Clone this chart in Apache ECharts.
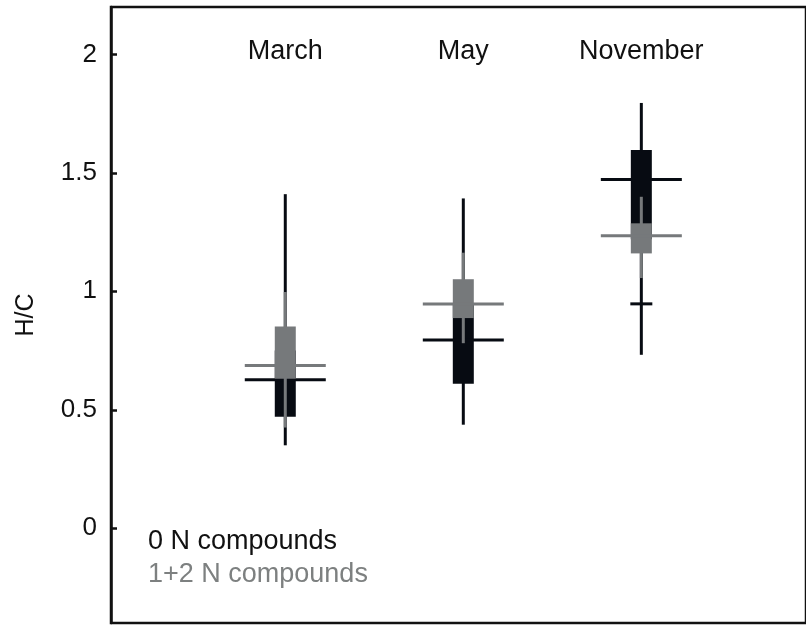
<!DOCTYPE html>
<html>
<head>
    <meta charset="utf-8">
    <title>H/C by month</title>
    <script src="https://cdn.jsdelivr.net/npm/echarts@6/dist/echarts.min.js"></script>
    <style type="text/css">
        body{ margin:0; background:#fff; }
        #main{ width:806px; height:626px; }
    </style>
</head>
<body>
<div id="main"></div>

<script type="text/javascript">
    // data
    var months = ['March', 'May', 'November'];
    var yTicks = [0, 0.5, 1, 1.5, 2];

    // 0 N compounds (black)
    var blackWhiskerLow  = [0.350, 0.437, 0.732];
    var blackBoxLow      = [0.471, 0.610, 1.220];
    var blackMedian      = [0.627, 0.794, 1.472];
    var blackBoxHigh     = [0.750, 0.950, 1.596];
    var blackWhiskerHigh = [1.410, 1.392, 1.795];
    var blackExtra       = [null, null, 0.947];

    // 1+2 N compounds (grey)
    var greyWhiskerLow  = [0.425, 0.781, 1.056];
    var greyBoxLow      = [0.631, 0.887, 1.160];
    var greyMedian      = [0.687, 0.946, 1.235];
    var greyBoxHigh     = [0.851, 1.051, 1.287];
    var greyWhiskerHigh = [0.997, 1.163, 1.399];

    var BLACK = '#070b12';
    var GREY = '#76797b';
    var TEXT = '#111111';

    function boxData(lo, bl, med, bh, hi) {
        var out = [];
        for (var i = 0; i < months.length; i++) {
            out.push([i + 1, lo[i], bl[i], med[i], bh[i], hi[i]]);
        }
        return out;
    }

    function boxRender(color) {
        return function (params, api) {
            var x = api.value(0);
            var wLo = api.coord([x, api.value(1)]);
            var bLo = api.coord([x, api.value(2)]);
            var med = api.coord([x, api.value(3)]);
            var bHi = api.coord([x, api.value(4)]);
            var wHi = api.coord([x, api.value(5)]);
            var cx = wLo[0];
            return {
                type: 'group',
                children: [
                    { type: 'rect', shape: { x: cx - 1.5, y: wHi[1], width: 3, height: wLo[1] - wHi[1] }, style: { fill: color } },
                    { type: 'rect', shape: { x: cx - 10.5, y: bHi[1], width: 21, height: bLo[1] - bHi[1] }, style: { fill: color } },
                    { type: 'rect', shape: { x: cx - 40.5, y: med[1] - 1.5, width: 81, height: 3 }, style: { fill: color } }
                ]
            };
        };
    }

    var extraData = [];
    for (var i = 0; i < blackExtra.length; i++) {
        if (blackExtra[i] !== null) extraData.push([i + 1, blackExtra[i]]);
    }

    var myChart = echarts.init(document.getElementById('main'));
    myChart.setOption({
        animation: false,
        textStyle: { fontFamily: '"Liberation Sans", Arial, sans-serif' },
        grid: {
            left: 111, top: 7, right: -6, bottom: 3,
            show: true, borderColor: TEXT, borderWidth: 2.5, backgroundColor: 'transparent'
        },
        legend: {
            orient: 'vertical',
            left: 138, top: 523,
            itemWidth: 0, itemHeight: 27, itemGap: 6,
            selectedMode: false,
            textStyle: { fontSize: 27 },
            data: [
                { name: '0 N compounds', icon: 'none', textStyle: { color: TEXT } },
                { name: '1+2 N compounds', icon: 'none', textStyle: { color: '#7d8080' } }
            ]
        },
        xAxis: [{
            type: 'value', min: 0.021, max: 3.925,
            axisLine: { show: false }, axisTick: { show: false },
            axisLabel: { show: false }, splitLine: { show: false }
        }, {
            type: 'value', position: 'top', min: 0.021, max: 3.925,
            axisLine: { show: false }, axisTick: { show: false }, splitLine: { show: false },
            axisLabel: {
                inside: true, margin: 31, fontSize: 27, color: TEXT,
                customValues: [1, 2, 3],
                formatter: function (v) { return months[Math.round(v) - 1]; }
            }
        }],
        yAxis: {
            type: 'value', min: -0.4, max: 2.2,
            name: 'H/C', nameLocation: 'middle', nameGap: 72,
            nameTextStyle: { fontSize: 25, color: TEXT },
            axisLine: { show: true, lineStyle: { color: TEXT, width: 2.5 } },
            axisTick: { show: true, inside: true, length: 6, lineStyle: { color: TEXT, width: 2.5 }, customValues: yTicks },
            axisLabel: { fontSize: 26, color: TEXT, margin: 14, customValues: yTicks },
            splitLine: { show: false }
        },
        series: [{
            name: '0 N compounds',
            type: 'custom',
            renderItem: boxRender(BLACK),
            encode: { x: 0, y: [1, 5] },
            data: boxData(blackWhiskerLow, blackBoxLow, blackMedian, blackBoxHigh, blackWhiskerHigh),
            z: 2
        }, {
            name: '0 N compounds',
            type: 'custom',
            renderItem: function (params, api) {
                var p = api.coord([api.value(0), api.value(1)]);
                return { type: 'rect', shape: { x: p[0] - 11, y: p[1] - 1.5, width: 22, height: 3 }, style: { fill: BLACK } };
            },
            encode: { x: 0, y: 1 },
            data: extraData,
            z: 2
        }, {
            name: '1+2 N compounds',
            type: 'custom',
            renderItem: boxRender(GREY),
            encode: { x: 0, y: [1, 5] },
            data: boxData(greyWhiskerLow, greyBoxLow, greyMedian, greyBoxHigh, greyWhiskerHigh),
            z: 3
        }]
    });
</script>
</body>
</html>
